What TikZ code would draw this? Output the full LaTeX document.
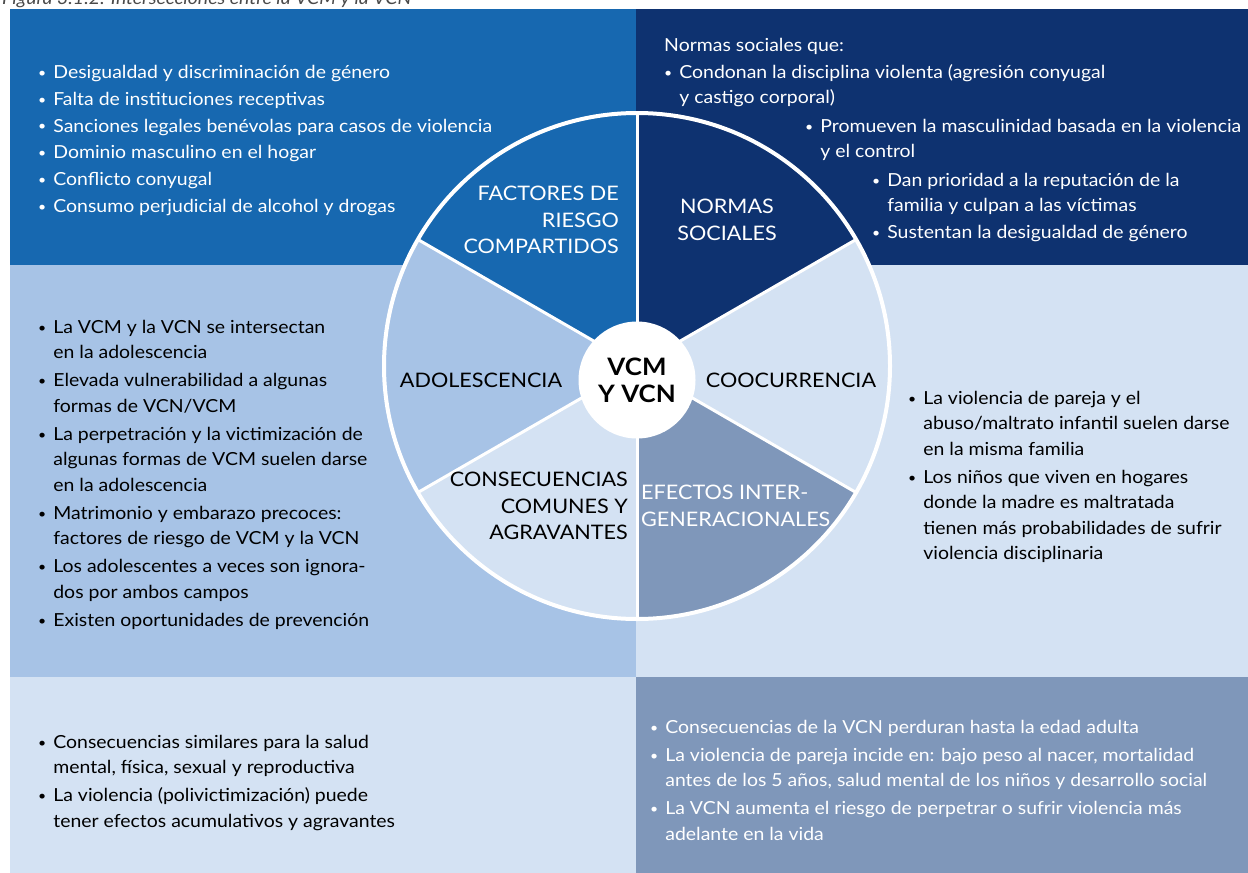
\documentclass[tikz,border=0pt]{standalone}
\usepackage{fontspec}
\setmainfont{Lato}[FakeStretch=1.08]
\usetikzlibrary{calc}

\definecolor{riskblue}{HTML}{1768B0}
\definecolor{normnavy}{HTML}{0E3270}
\definecolor{adolblue}{HTML}{A7C3E6}
\definecolor{paleblue}{HTML}{D4E2F3}
\definecolor{slateblue}{HTML}{7F97BA}
\definecolor{titlegray}{HTML}{4A4A4A}

\newcommand{\blt}{{\fontsize{13}{13}\selectfont\raisebox{1.2pt}{\textbullet}}\hspace{7pt}}
\newcommand{\indnt}{\hphantom{\blt}}

\begin{document}
\begin{tikzpicture}[
	x=1pt, y=-1pt,
	body/.style={font=\fontsize{18}{25.5}\selectfont, align=left, anchor=north west, inner sep=0pt},
	wedge/.style={font=\fontsize{20}{26.5}\selectfont, inner sep=0pt},
	divider/.style={white, line width=3pt},
	rim/.style={white, line width=4pt}
	]
	
	\useasboundingbox (0,0) rectangle (1248,873);
	
	% Title (cut at the top)
	\node[anchor=base west, inner sep=0pt, text=titlegray, font=\itshape\fontsize{18}{20}\selectfont] (title) at (2,4) {Figura 3.1.2: Intersecciones entre la VCM y la VCN};
	
	% Background panels
	\fill[riskblue] (10,9) rectangle (636,265);
	\fill[normnavy] (636,9) rectangle (1248,265);
	\fill[adolblue] (10,265) rectangle (636,677);
	\fill[paleblue] (636,265) rectangle (1248,677);
	\fill[paleblue] (10,677) rectangle (636,873);
	\fill[slateblue] (636,677) rectangle (1248,873);
	
	% Wheel (y axis points down, so angles turn clockwise)
	\coordinate (c) at (637,366);
	\foreach \a/\col in {210/riskblue, 270/normnavy, -30/paleblue, 30/slateblue, 90/paleblue, 150/adolblue}
		\fill[\col] (c) -- ++(\a:253) arc[start angle=\a, delta angle=60, radius=253] -- cycle;
	
	\foreach \a in {30,90,150,210,270,330}
		\draw[divider] (c) -- ++(\a:253);
	\draw[rim] (c) circle[radius=253];
	
	\node[circle, fill=white, minimum size=117pt, inner sep=0pt, align=center,
		font=\bfseries\fontsize{24}{27}\selectfont] (hub) at (637,380) {VCM\\Y VCN};
	
	% Wheel labels
	\node[wedge, text=white, align=right, anchor=east] (riskLbl) at (619,220) {FACTORES DE\\RIESGO\\COMPARTIDOS};
	\node[wedge, text=white, align=center] (normLbl) at (727,220) {NORMAS\\SOCIALES};
	\node[wedge, align=center] (coocLbl) at (791,380) {COOCURRENCIA};
	\node[wedge, text=white, align=left, anchor=west] (effLbl) at (641,506) {EFECTOS INTER-\\GENERACIONALES};
	\node[wedge, align=right, anchor=east] (consLbl) at (628,506) {CONSECUENCIAS\\COMUNES Y\\AGRAVANTES};
	\node[wedge, align=center] (adolLbl) at (481,380) {ADOLESCENCIA};
	
	% Top left: shared risk factors
	\node[body, text=white] (riskList) at (38,65) {%
		\blt Desigualdad y discriminación de género\\[1.3pt]
		\blt Falta de instituciones receptivas\\[1.3pt]
		\blt Sanciones legales benévolas para casos de violencia\\[1.3pt]
		\blt Dominio masculino en el hogar\\[1.3pt]
		\blt Conflicto conyugal\\[1.3pt]
		\blt Consumo perjudicial de alcohol y drogas};
	
	% Top right: social norms
	\node[body, text=white] (normList) at (664,38) {%
		Normas sociales que:\\[1.3pt]
		\blt Condonan la disciplina violenta (agresión conyugal\\
		\indnt y castigo corporal)};
	\node[body, text=white] (normList2) at (805,119) {%
		\blt Promueven la masculinidad basada en la violencia\\
		\indnt y el control};
	\node[body, text=white] (normList3) at (872,173) {%
		\blt Dan prioridad a la reputación de la\\
		\indnt familia y culpan a las víctimas\\[1.3pt]
		\blt Sustentan la desigualdad de género};
	
	% Middle left: adolescence
	\node[body] (adolList) at (38,320) {%
		\blt La VCM y la VCN se intersectan\\
		\indnt en la adolescencia\\[2.5pt]
		\blt Elevada vulnerabilidad a algunas\\
		\indnt formas de VCN/VCM\\[2.5pt]
		\blt La perpetración y la victimización de\\
		\indnt algunas formas de VCM suelen darse\\
		\indnt en la adolescencia\\[2.5pt]
		\blt Matrimonio y embarazo precoces:\\
		\indnt factores de riesgo de VCM y la VCN\\[2.5pt]
		\blt Los adolescentes a veces son ignora-\\
		\indnt dos por ambos campos\\[2.5pt]
		\blt Existen oportunidades de prevención};
	
	% Middle right: co-occurrence
	\node[body] (coocList) at (908,391) {%
		\blt La violencia de pareja y el\\
		\indnt abuso/maltrato infantil suelen darse\\
		\indnt en la misma familia\\[2.5pt]
		\blt Los niños que viven en hogares\\
		\indnt donde la madre es maltratada\\
		\indnt tienen más probabilidades de sufrir\\
		\indnt violencia disciplinaria};
	
	% Bottom left: common consequences
	\node[body] (consList) at (38,735) {%
		\blt Consecuencias similares para la salud\\
		\indnt mental, física, sexual y reproductiva\\[2.5pt]
		\blt La violencia (polivictimización) puede\\
		\indnt tener efectos acumulativos y agravantes};
	
	% Bottom right: intergenerational effects
	\node[body, text=white] (effList) at (650,720) {%
		\blt Consecuencias de la VCN perduran hasta la edad adulta\\[2.5pt]
		\blt La violencia de pareja incide en: bajo peso al nacer, mortalidad\\
		\indnt antes de los 5 años, salud mental de los niños y desarrollo social\\[2.5pt]
		\blt La VCN aumenta el riesgo de perpetrar o sufrir violencia más\\
		\indnt adelante en la vida};
	
\end{tikzpicture}
\end{document}
